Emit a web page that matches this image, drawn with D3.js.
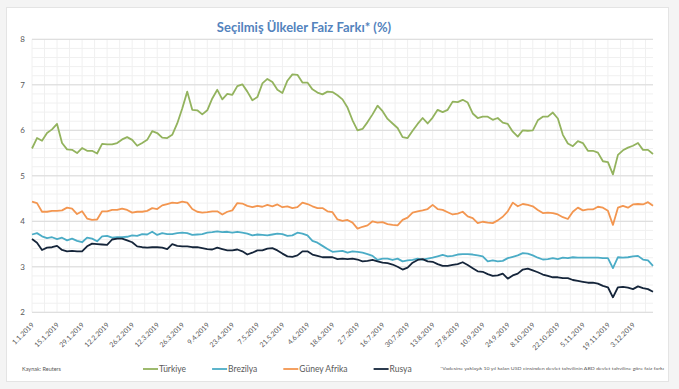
<!DOCTYPE html>
<html>
<head>
<meta charset="utf-8">
<script src="https://cdn.jsdelivr.net/npm/d3@7"></script>
<style>
  body { margin: 0; background: #f4f4f4; }
</style>
</head>
<body>
<script>
// readings every 2 business days, 1.1.2019 .. 13.12.2019
const turkiye = [5.60,5.83,5.77,5.94,6.02,6.14,5.72,5.58,5.57,5.50,
  5.61,5.55,5.55,5.49,5.70,5.69,5.69,5.72,5.80,5.85,
  5.79,5.66,5.72,5.79,5.98,5.94,5.84,5.83,5.90,6.15,
  6.48,6.85,6.45,6.44,6.35,6.44,6.70,6.89,6.68,6.80,
  6.78,6.97,7.01,6.85,6.66,6.73,7.03,7.13,7.06,6.89,
  6.82,7.09,7.23,7.22,7.05,7.05,6.90,6.83,6.79,6.85,
  6.84,6.77,6.68,6.50,6.22,6.00,6.03,6.18,6.35,6.54,
  6.42,6.25,6.15,6.05,5.85,5.83,5.99,6.14,6.27,6.15,
  6.28,6.45,6.40,6.45,6.63,6.62,6.67,6.61,6.37,6.27,
  6.30,6.30,6.23,6.27,6.17,6.14,5.97,5.86,6.00,5.99,
  6.00,6.22,6.30,6.30,6.39,6.26,5.90,5.71,5.65,5.76,
  5.72,5.55,5.55,5.51,5.32,5.30,5.03,5.46,5.56,5.62,
  5.66,5.72,5.57,5.57,5.48];

const brezilya = [3.71,3.74,3.67,3.63,3.65,3.61,3.64,3.58,3.62,3.57,
  3.54,3.64,3.62,3.56,3.67,3.68,3.64,3.65,3.65,3.66,
  3.69,3.68,3.72,3.71,3.77,3.70,3.74,3.72,3.72,3.74,
  3.75,3.74,3.70,3.71,3.72,3.75,3.76,3.78,3.76,3.77,
  3.75,3.77,3.75,3.73,3.69,3.71,3.70,3.69,3.71,3.73,
  3.72,3.68,3.69,3.75,3.73,3.69,3.57,3.53,3.46,3.39,
  3.33,3.34,3.35,3.31,3.34,3.33,3.31,3.28,3.24,3.15,
  3.18,3.18,3.15,3.18,3.12,3.14,3.15,3.18,3.16,3.18,
  3.20,3.23,3.26,3.23,3.24,3.27,3.28,3.28,3.27,3.25,
  3.23,3.12,3.14,3.12,3.13,3.19,3.22,3.25,3.30,3.29,
  3.25,3.20,3.16,3.17,3.19,3.17,3.20,3.19,3.21,3.20,
  3.20,3.20,3.20,3.20,3.19,3.19,2.97,3.21,3.20,3.21,
  3.23,3.24,3.16,3.14,3.02];

const guneyAfrika = [4.43,4.40,4.21,4.21,4.23,4.23,4.24,4.30,4.28,4.16,
  4.22,4.06,4.03,4.04,4.22,4.22,4.25,4.25,4.28,4.25,
  4.19,4.21,4.21,4.23,4.29,4.27,4.35,4.38,4.41,4.40,
  4.43,4.41,4.27,4.21,4.19,4.20,4.22,4.22,4.15,4.21,
  4.24,4.40,4.39,4.34,4.31,4.34,4.32,4.36,4.33,4.37,
  4.31,4.33,4.29,4.31,4.41,4.38,4.33,4.29,4.29,4.22,
  4.20,4.04,4.01,4.03,3.97,3.84,3.88,3.91,4.00,3.97,
  3.98,3.94,3.92,3.91,4.03,4.08,4.19,4.22,4.24,4.27,
  4.36,4.27,4.25,4.20,4.15,4.17,4.21,4.11,4.07,3.96,
  3.99,3.97,3.96,4.02,4.10,4.22,4.41,4.33,4.38,4.36,
  4.33,4.25,4.18,4.19,4.18,4.15,4.09,4.05,4.21,4.30,
  4.24,4.26,4.26,4.32,4.30,4.23,3.92,4.30,4.34,4.30,
  4.37,4.38,4.37,4.42,4.34];

const rusya = [3.61,3.53,3.37,3.42,3.43,3.46,3.37,3.34,3.35,3.34,
  3.34,3.45,3.51,3.50,3.49,3.48,3.60,3.62,3.62,3.58,
  3.54,3.45,3.43,3.42,3.43,3.43,3.42,3.39,3.50,3.46,
  3.45,3.45,3.43,3.43,3.41,3.39,3.38,3.42,3.39,3.36,
  3.36,3.38,3.34,3.27,3.31,3.36,3.36,3.40,3.41,3.36,
  3.29,3.23,3.22,3.25,3.34,3.34,3.27,3.24,3.21,3.21,
  3.21,3.17,3.18,3.17,3.18,3.16,3.12,3.13,3.15,3.12,
  3.09,3.08,3.05,3.00,2.94,2.98,3.09,3.15,3.17,3.12,
  3.11,3.06,3.02,3.02,3.04,3.06,3.10,3.04,2.97,2.90,
  2.89,2.84,2.80,2.81,2.85,2.74,2.81,2.85,2.94,2.96,
  2.92,2.88,2.83,2.80,2.77,2.77,2.75,2.75,2.71,2.69,
  2.67,2.65,2.65,2.63,2.58,2.55,2.33,2.55,2.56,2.54,
  2.51,2.57,2.53,2.51,2.45];

const tickLabels = ['1.1.2019','15.1.2019','29.1.2019','12.2.2019','26.2.2019',
  '12.3.2019','26.3.2019','9.4.2019','23.4.2019','7.5.2019','21.5.2019',
  '4.6.2019','18.6.2019','2.7.2019','16.7.2019','30.7.2019','13.8.2019',
  '27.8.2019','10.9.2019','24.9.2019','8.10.2019','22.10.2019','5.11.2019',
  '19.11.2019','3.12.2019'];

const seriesNames = ['Türkiye', 'Brezilya', 'Güney Afrika', 'Rusya'];
const seriesColors = ['#93b35e', '#4bacc6', '#f39650', '#15253a'];

const stepDays = 2;     // business days between readings
const tickEvery = 10;   // business days between axis labels
const lastDay = (turkiye.length - 1) * stepDays;

const width = 679;
const height = 389;
const margin = {top: 39.3, right: 26, bottom: 76.7, left: 32};
const font = 'Lato, "Open Sans", sans-serif';

const x = d3.scaleLinear()
    .domain([0, lastDay])
    .range([margin.left, width - margin.right]);

const y = d3.scaleLinear()
    .domain([2, 8])
    .range([height - margin.bottom, margin.top]);

const svg = d3.create('svg')
    .attr('width', width)
    .attr('height', height)
    .attr('font-family', font);

// attach early so text can be measured for the legend
document.querySelector('body').appendChild(svg.node());

// card
svg.append('rect')
    .attr('x', 6.5).attr('y', 7.5)
    .attr('width', 662).attr('height', 374)
    .attr('fill', '#fff')
    .attr('stroke', '#e4e4e4');

svg.append('text')
    .attr('x', 304).attr('y', 32)
    .attr('text-anchor', 'middle')
    .attr('font-size', 13)
    .attr('font-weight', 'bold')
    .attr('fill', '#5383bd')
    .text('Seçilmiş Ülkeler Faiz Farkı* (%)');

// grid
const grid = svg.append('g');
grid.selectAll('.vminor')
    .data(d3.range(0, lastDay + 1, 5))
    .join('line')
    .attr('x1', d => x(d)).attr('x2', d => x(d))
    .attr('y1', y(8)).attr('y2', y(2))
    .attr('stroke', '#f0f0f0');

grid.selectAll('.hminor')
    .data(y.ticks(30))
    .join('line')
    .attr('x1', x(0)).attr('x2', x(lastDay))
    .attr('y1', d => y(d)).attr('y2', d => y(d))
    .attr('stroke', '#f0f0f0');

grid.selectAll('.hmajor')
    .data(y.ticks(6))
    .join('line')
    .attr('x1', x(0)).attr('x2', x(lastDay))
    .attr('y1', d => y(d)).attr('y2', d => y(d))
    .attr('stroke', '#dadada');

// axes
const yAxis = d3.axisLeft(y).ticks(6).tickSize(0).tickPadding(7);
svg.append('g')
    .attr('transform', `translate(${margin.left},0)`)
    .call(yAxis)
    .call(g => g.select('.domain').remove())
    .selectAll('text')
    .attr('font-family', font)
    .attr('font-size', 8)
    .attr('fill', '#595959');

const xAxis = d3.axisBottom(x)
    .tickValues(tickLabels.map((d, i) => i * tickEvery))
    .tickFormat((d, i) => tickLabels[i])
    .tickSize(0);

svg.append('g')
    .attr('transform', `translate(0,${y(2)})`)
    .call(xAxis)
    .call(g => g.select('.domain').remove())
    .selectAll('text')
    .attr('font-family', font)
    .attr('font-size', 7)
    .attr('fill', '#595959')
    .attr('text-anchor', 'end')
    .attr('dy', 0)
    .attr('transform', 'translate(0,11) rotate(-45)');

// lines
const series = [turkiye, brezilya, guneyAfrika, rusya];
const line = d3.line()
    .x((d, i) => x(i * stepDays))
    .y(d => y(d));

svg.append('g')
    .selectAll('path')
    .data(series)
    .join('path')
    .attr('fill', 'none')
    .attr('stroke', (d, i) => seriesColors[i])
    .attr('stroke-width', 1.8)
    .attr('stroke-linejoin', 'round')
    .attr('d', line);

// legend
const legend = svg.append('g').attr('font-size', 8.5).attr('fill', '#595959');
let lx = 143;
seriesNames.forEach((name, i) => {
  legend.append('line')
      .attr('x1', lx).attr('x2', lx + 15)
      .attr('y1', 369).attr('y2', 369)
      .attr('stroke', seriesColors[i])
      .attr('stroke-width', 1.8);
  const t = legend.append('text')
      .attr('x', lx + 16).attr('y', 372)
      .text(name);
  lx += 16 + t.node().getComputedTextLength() + 26;
});

svg.append('text')
    .attr('x', 22).attr('y', 371)
    .attr('font-size', 5.5)
    .attr('fill', '#595959')
    .text('Kaynak: Reuters');

svg.append('text')
    .attr('x', 440).attr('y', 370)
    .attr('font-size', 4.6)
    .attr('fill', '#595959')
    .attr('textLength', 224)
    .attr('lengthAdjust', 'spacingAndGlyphs')
    .text('*Vadesine yaklaşık 10 yıl kalan USD cinsinden devlet tahvilinin ABD devlet tahviline göre faiz farkı');
</script>
</body>
</html>
